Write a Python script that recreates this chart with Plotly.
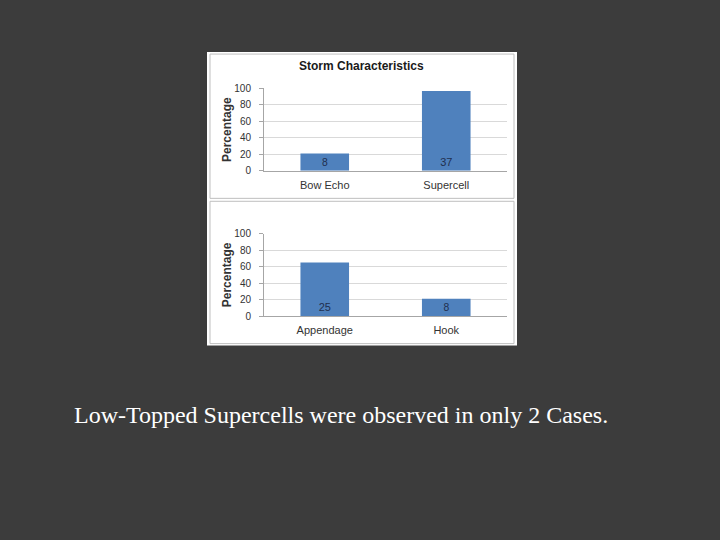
import plotly.graph_objects as go

# storm type panel
storm_types = ['Bow Echo', 'Supercell']
storm_pct = [21, 97]
storm_counts = ['8', '37']

# supercell feature panel
features = ['Appendage', 'Hook']
feature_pct = [65, 21]
feature_counts = ['25', '8']

y_ticks = [0, 20, 40, 60, 80, 100]

W, H = 720, 540
BAR_BLUE = '#4F81BD'
FONT = 'Liberation Sans'


def px_x(x):
    return x / W


def px_y(y):
    return 1 - y / H


fig = go.Figure()

fig.add_trace(go.Bar(
    x=storm_types, y=storm_pct, text=storm_counts,
    textposition='inside', insidetextanchor='start', textangle=0,
    textfont=dict(color='#1F2F4F', size=11, family=FONT),
    marker=dict(color=BAR_BLUE, line=dict(width=0)),
    xaxis='x', yaxis='y', showlegend=False,
))
fig.add_trace(go.Bar(
    x=features, y=feature_pct, text=feature_counts,
    textposition='inside', insidetextanchor='start', textangle=0,
    textfont=dict(color='#1F2F4F', size=11, family=FONT),
    marker=dict(color=BAR_BLUE, line=dict(width=0)),
    xaxis='x2', yaxis='y2', showlegend=False,
))

xdom = [px_x(264), px_x(507)]
axis_x = dict(domain=xdom, showgrid=False, showline=True, linecolor='#A6A6A6',
              linewidth=1, ticks='', ticklabelstandoff=4,
              tickfont=dict(size=11, color='#333333', family=FONT), fixedrange=True)
axis_y = dict(range=[0, 100], tickvals=y_ticks, showgrid=True, gridcolor='#D9D9D9',
              gridwidth=1, showline=True, linecolor='#A6A6A6', ticks='outside',
              ticklen=4, tickcolor='#A6A6A6', ticklabelstandoff=6,
              tickfont=dict(size=10, color='#333333', family=FONT), zeroline=False)
y_title = dict(text='<b>Percentage</b>', font=dict(size=12, color='#333333', family=FONT),
               standoff=0)

fig.update_layout(
    width=W, height=H,
    margin=dict(l=0, r=0, t=0, b=0),
    paper_bgcolor='#3C3C3C',
    plot_bgcolor='rgba(0,0,0,0)',
    bargap=0.6,
    xaxis=dict(axis_x, anchor='y'),
    yaxis=dict(axis_y, domain=[px_y(169), px_y(85)], anchor='x', title=y_title),
    xaxis2=dict(axis_x, anchor='y2'),
    yaxis2=dict(axis_y, domain=[px_y(317), px_y(233)], anchor='x2', title=y_title),
    shapes=[
        dict(type='rect', xref='paper', yref='paper', layer='below',
             x0=px_x(207), x1=px_x(517), y0=px_y(347), y1=px_y(48),
             fillcolor='white', line=dict(width=0)),
        dict(type='rect', xref='paper', yref='paper', layer='below',
             x0=px_x(210), x1=px_x(514), y0=px_y(197), y1=px_y(50),
             fillcolor='white', line=dict(color='#BFBFBF', width=1)),
        dict(type='rect', xref='paper', yref='paper', layer='below',
             x0=px_x(210), x1=px_x(514), y0=px_y(345), y1=px_y(200),
             fillcolor='white', line=dict(color='#BFBFBF', width=1)),
    ],
    annotations=[
        dict(text='<b>Storm Characteristics</b>', xref='paper', yref='paper',
             x=px_x(361), y=px_y(62), xanchor='center', yanchor='middle', showarrow=False,
             font=dict(size=12, color='#1A1A1A', family=FONT)),
        dict(text='Low-Topped Supercells were observed in only 2 Cases.', xref='paper', yref='paper',
             x=px_x(72), y=px_y(418), xanchor='left', yanchor='middle', showarrow=False,
             font=dict(size=24, color='white', family='Liberation Serif')),
    ],
)

fig.write_html('out.html', config={'displayModeBar': False},
               post_script="document.body.style.margin='0';")
